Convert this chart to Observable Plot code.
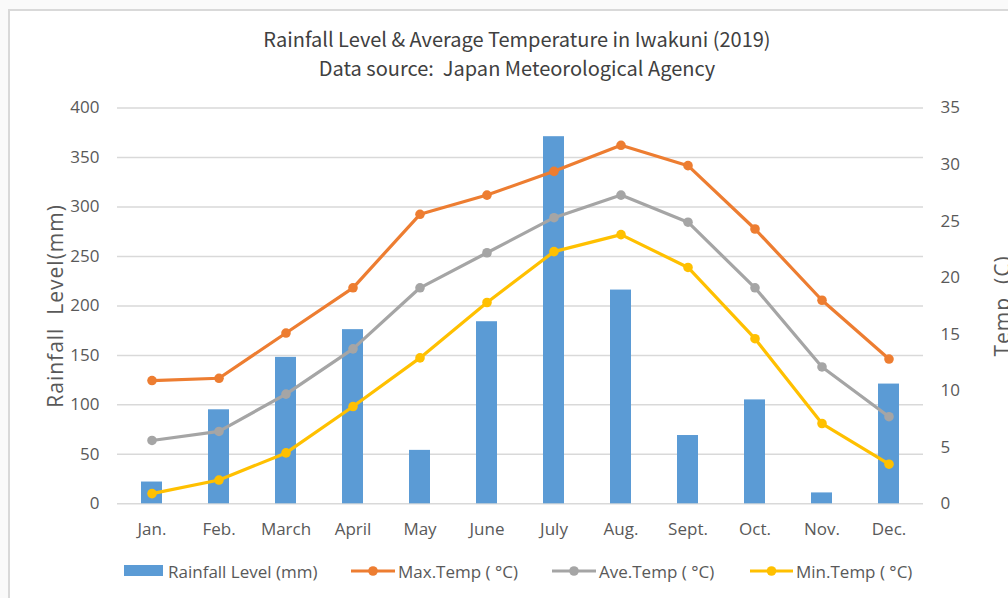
<!DOCTYPE html>
<html>
<head>
<meta charset="utf-8">
<script src="https://cdn.jsdelivr.net/npm/d3@7"></script>
<script src="https://cdn.jsdelivr.net/npm/@observablehq/plot@0.6"></script>
<style>
  html, body { margin: 0; padding: 0; background: #fafafa; }
  #wrap { position: relative; width: 1008px; height: 598px; overflow: hidden; background: #fafafa; }
  #frame { position: absolute; left: 8px; top: 9px; width: 1100px; height: 700px; border-left: 2px solid #d9d9d9; border-top: 2px solid #d9d9d9; background: #fff; }
  .ttl { position: absolute; left: 0; width: 1034px; text-align: center; white-space: pre; font-family: "Noto Sans CJK JP", "Noto Sans", sans-serif; font-size: 20px; color: #404040; line-height: 1; }
  #chart { position: absolute; left: 0; top: 90px; }
  #legend { position: absolute; left: 0; top: 559px; width: 1008px; height: 24px; font-family: "Open Sans", sans-serif; font-size: 17px; color: #595959; }
  .li { position: absolute; top: 0; height: 24px; display: flex; align-items: center; white-space: nowrap; }
</style>
</head>
<body>
<div id="wrap">
  <div id="frame"></div>
  <div class="ttl" id="t1" style="top:29px"></div>
  <div class="ttl" id="t2" style="top:58px"></div>
  <div id="chart"></div>
  <div id="legend"></div>
</div>
<script>
const titleText = "Rainfall Level & Average Temperature in Iwakuni (2019)";
const subtitleText = "Data source:  Japan Meteorological Agency";
const months = ["Jan.", "Feb.", "March", "April", "May", "June", "July", "Aug.", "Sept.", "Oct.", "Nov.", "Dec."];
const rainfall = [22, 95, 148, 176, 54, 184, 371, 216, 69, 105, 11, 121];
const maxTemp = [10.9, 11.1, 15.1, 19.1, 25.6, 27.3, 29.4, 31.7, 29.9, 24.3, 18.0, 12.8];
const aveTemp = [5.6, 6.4, 9.7, 13.7, 19.1, 22.2, 25.3, 27.3, 24.9, 19.1, 12.1, 7.7];
const minTemp = [0.9, 2.1, 4.5, 8.6, 12.9, 17.8, 22.3, 23.8, 20.9, 14.6, 7.1, 3.5];
const rainTicks = [0, 50, 100, 150, 200, 250, 300, 350, 400];
const tempTicks = [0, 5, 10, 15, 20, 25, 30, 35];
const seriesNames = ["Rainfall Level (mm)", "Max.Temp ( °C)", "Ave.Temp ( °C)", "Min.Temp ( °C)"];
const seriesColors = ["#5b9bd5", "#ed7d31", "#a5a5a5", "#ffc000"];
const leftTitle = "Rainfall\u00a0\u00a0Level(mm)";
const rightTitle = "Temp\u00a0\u00a0(C)";

document.getElementById("t1").textContent = titleText;
document.getElementById("t2").textContent = subtitleText;

const k = 400 / 35; // temperature -> rainfall axis units
const rainData = months.map((m, i) => ({month: m, rain: rainfall[i]}));
const tempSeries = [maxTemp, aveTemp, minTemp];
const tempData = tempSeries.map((arr, s) => months.map((m, i) => ({month: m, t: arr[i], s})));

const marks = [
  Plot.ruleY(rainTicks, {stroke: "#d9d9d9", strokeWidth: 1.5}),
  Plot.barY(rainData, {x: "month", y: "rain", fill: seriesColors[0]})
];
tempData.forEach((d, s) => {
  marks.push(Plot.line(d, {x: "month", y: v => v.t * k, stroke: seriesColors[s + 1], strokeWidth: 3.2}));
  marks.push(Plot.dot(d, {x: "month", y: v => v.t * k, fill: seriesColors[s + 1], r: 4.8}));
});
marks.push(
  Plot.axisX({tickSize: 0, tickPadding: 19, label: null}),
  Plot.axisY({ticks: rainTicks, tickSize: 0, tickPadding: 18, label: null}),
  Plot.axisY({ticks: tempTicks.map(t => t * k), anchor: "right", tickSize: 0, tickPadding: 17, tickFormat: d => String(Math.round(d / k)), label: null}),
  Plot.text([leftTitle], {frameAnchor: "left", textAnchor: "middle", dx: -61, dy: -88 + 88, rotate: -90, fontSize: 21, fill: "#595959"}),
  Plot.text([rightTitle], {frameAnchor: "right", textAnchor: "middle", dx: 80, rotate: -90, fontSize: 21, fill: "#595959"})
);

const chart = Plot.plot({
  width: 1008,
  height: 460,
  marginLeft: 117,
  marginRight: 85,
  marginTop: 17.5,
  marginBottom: 46.7,
  style: {fontFamily: "'Open Sans', sans-serif", fontSize: "17px", color: "#595959", background: "transparent", overflow: "visible"},
  x: {domain: months, paddingInner: 0.69, paddingOuter: 0.345, label: null},
  y: {domain: [0, 400], label: null},
  marks
});
d3.select(chart).selectAll("text")
  .filter(function () { return this.textContent === leftTitle || this.textContent === rightTitle; })
  .style("letter-spacing", "1px");
document.getElementById("chart").appendChild(chart);

// legend
const legendX = [[124, 168], [351, 398], [552, 599], [750, 796]];
const legend = document.getElementById("legend");
seriesNames.forEach((name, i) => {
  const item = document.createElement("div");
  item.className = "li";
  item.style.left = legendX[i][0] + "px";
  const sw = legendX[i][1] - legendX[i][0] - 3;
  let sym;
  if (i === 0) {
    sym = `<svg width="${sw}" height="24"><rect x="0" y="6" width="${sw - 2}" height="11" fill="${seriesColors[i]}"/></svg>`;
  } else {
    sym = `<svg width="${sw}" height="24"><line x1="0" x2="${sw}" y1="12" y2="12" stroke="${seriesColors[i]}" stroke-width="3.2"/><circle cx="${sw / 2}" cy="12" r="4.8" fill="${seriesColors[i]}"/></svg>`;
  }
  item.innerHTML = sym + `<span style="margin-left:3px">${name}</span>`;
  legend.appendChild(item);
});
</script>
</body>
</html>
